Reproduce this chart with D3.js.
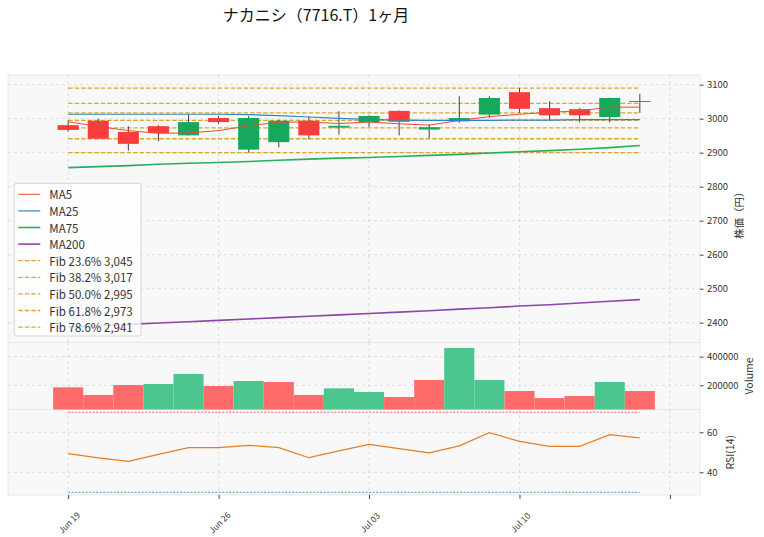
<!DOCTYPE html>
<html>
<head>
<meta charset="utf-8">
<script src="https://cdn.jsdelivr.net/npm/d3@7"></script>
<style>
    body { margin: 0; background: #fff; }
    text { font-family: "Noto Sans CJK JP", "Noto Sans", sans-serif; fill: #333; }
    .grid line { stroke: #d6d6d6; stroke-dasharray: 3,3; stroke-width: 0.8; }
    .axis path { display: none; }
    .axis line { stroke: #444; }
</style>
</head>
<body>
<div id="chart"></div>

<script>

    // daily data, 2023-06-19 .. 2023-07-14
    var dates = ["2023-06-19", "2023-06-20", "2023-06-21", "2023-06-22", "2023-06-23",
                 "2023-06-26", "2023-06-27", "2023-06-28", "2023-06-29", "2023-06-30",
                 "2023-07-03", "2023-07-04", "2023-07-05", "2023-07-06", "2023-07-07",
                 "2023-07-10", "2023-07-11", "2023-07-12", "2023-07-13", "2023-07-14"];
    var open  = [2981, 2994, 2961, 2978, 2951, 3002, 2909, 2931, 2994, 2974, 2990, 3023, 2968, 2992, 3012, 3078, 3031, 3028, 3005, 3052];
    var high  = [2995, 3000, 2978, 2981, 3012, 3008, 3008, 2997, 3007, 3022, 3010, 3024, 2983, 3066, 3066, 3090, 3051, 3031, 3062, 3073];
    var low   = [2962, 2940, 2906, 2934, 2951, 2985, 2900, 2916, 2940, 2953, 2976, 2951, 2943, 2988, 3003, 3017, 2994, 2989, 2989, 3017];
    var close = [2967, 2941, 2926, 2958, 2990, 2990, 3002, 2994, 2951, 2979, 3008, 2991, 2975, 3002, 3061, 3029, 3010, 3010, 3061, 3050];
    var prevClose = 2980;
    var volume = [186000, 132000, 202000, 209000, 279000, 195000, 230000, 223000, 132000, 179000,
                  153000, 118000, 237000, 461000, 237000, 160000, 111000, 125000, 223000, 160000];

    var ma5   = [2991, 2977, 2965, 2957, 2958, 2965, 2979, 2990, 2990, 2986, 2990, 2985, 2981, 2995, 3006, 3013, 3019, 3023, 3034, 3034];
    var ma25  = [3013, 3013, 3013, 3013, 3013, 3013, 3012, 3009, 3005, 3001, 2998, 2996, 2995, 2995, 2995, 2996, 2996, 2997, 2997, 2997];
    var ma75  = [2856, 2859, 2862, 2866, 2869, 2871, 2874, 2878, 2881, 2884, 2886, 2889, 2892, 2895, 2899, 2903, 2906, 2910, 2915, 2921];
    var ma200 = [2387, 2391, 2395, 2399, 2403, 2407, 2411, 2415, 2419, 2423, 2427, 2431, 2435, 2440, 2444, 2449, 2453, 2458, 2463, 2468];
    var rsi   = [49.3, 47.2, 45.5, 49.0, 52.3, 52.3, 53.5, 52.3, 47.3, 50.7, 54.0, 51.8, 49.7, 53.2, 59.8, 55.5, 53.0, 53.0, 58.8, 57.2];

    var fibNames  = ["0%", "23.6%", "38.2%", "50.0%", "61.8%", "78.6%", "100%"];
    var fibPrices = [3090, 3045, 3017, 2995, 2973, 2941, 2900];

    var priceTicks  = [2400, 2500, 2600, 2700, 2800, 2900, 3000, 3100];
    var volumeTicks = [200000, 400000];
    var rsiTicks    = [40, 60];
    var rsiBands    = [70, 30];
    var dateTicks   = [0, 5, 10, 15, 20];

    var title = "ナカニシ（7716.T）1ヶ月";

    var width = 764, height = 537;
    var left = 8, right = 700;
    var pTop = 75, pBot = 342.5, vBot = 409.5, rBot = 495;

    var red = "#fa3c3c", green = "#16a85c";
    var volRed = "#ff6b6b", volGreen = "#4cc68e";
    var fibColor = "#d4a017";

    var x = d3.scaleLinear().domain([-2, 21]).range([left, right]);
    var yPrice = d3.scaleLinear().domain([2341.8, 3128.5]).range([pBot, pTop]);
    var yVol = d3.scaleLinear().domain([31000, 499000]).range([vBot, pBot]);
    var yRsi = d3.scaleLinear().domain([28.65, 71.4]).range([rBot, vBot]);
    var step = x(1) - x(0);

    var svg = d3.select('#chart').append('svg')
        .attr('width', width)
        .attr('height', height);

    svg.append('text')
        .attr('x', 316).attr('y', 21)
        .attr('text-anchor', 'middle')
        .style('font-size', '16px')
        .style('fill', '#111')
        .text(title);

    // panel backgrounds
    [[pTop, pBot], [pBot, vBot], [vBot, rBot]].forEach(function(p) {
        svg.append('rect')
            .attr('x', left).attr('y', p[0])
            .attr('width', right - left).attr('height', p[1] - p[0])
            .attr('fill', '#f8f8f8')
            .attr('stroke', '#e4e4e4')
            .attr('stroke-width', 0.8);
    });

    // grids
    var grid = svg.append('g').attr('class', 'grid');
    [[pTop, pBot], [pBot, vBot], [vBot, rBot]].forEach(function(p) {
        grid.selectAll(null).data(dateTicks).enter().append('line')
            .attr('x1', function(d) { return x(d); }).attr('x2', function(d) { return x(d); })
            .attr('y1', p[0]).attr('y2', p[1]);
    });
    grid.selectAll(null).data(priceTicks).enter().append('line')
        .attr('x1', left).attr('x2', right)
        .attr('y1', function(d) { return yPrice(d); }).attr('y2', function(d) { return yPrice(d); });
    grid.selectAll(null).data(volumeTicks).enter().append('line')
        .attr('x1', left).attr('x2', right)
        .attr('y1', function(d) { return yVol(d); }).attr('y2', function(d) { return yVol(d); });
    grid.selectAll(null).data(rsiTicks).enter().append('line')
        .attr('x1', left).attr('x2', right)
        .attr('y1', function(d) { return yRsi(d); }).attr('y2', function(d) { return yRsi(d); });

    var idx = d3.range(dates.length);

    // fibonacci levels
    svg.append('g').selectAll('line').data(fibPrices).enter().append('line')
        .attr('x1', x(0)).attr('x2', x(dates.length - 1))
        .attr('y1', function(d) { return yPrice(d); }).attr('y2', function(d) { return yPrice(d); })
        .attr('stroke', fibColor)
        .attr('stroke-opacity', 0.9)
        .attr('stroke-width', 1.3)
        .attr('stroke-dasharray', '4.5,2');

    // candles
    var candles = svg.append('g');
    candles.selectAll('line').data(idx).enter().append('line')
        .attr('x1', function(i) { return x(i); }).attr('x2', function(i) { return x(i); })
        .attr('y1', function(i) { return yPrice(high[i]); })
        .attr('y2', function(i) { return yPrice(low[i]); })
        .attr('stroke', '#444').attr('stroke-width', 1);
    candles.selectAll('rect').data(idx).enter().append('rect')
        .attr('x', function(i) { return x(i) - step * 0.35; })
        .attr('width', step * 0.7)
        .attr('y', function(i) { return yPrice(Math.max(open[i], close[i])); })
        .attr('height', function(i) { return Math.max(1, Math.abs(yPrice(open[i]) - yPrice(close[i]))); })
        .attr('fill', function(i) { return close[i] >= open[i] ? green : red; });

    // moving averages
    var mas = [
        { name: 'MA5', values: ma5, color: '#e74c3c', w: 1 },
        { name: 'MA25', values: ma25, color: '#2e86c1', w: 1.2 },
        { name: 'MA75', values: ma75, color: '#27ae60', w: 1.6 },
        { name: 'MA200', values: ma200, color: '#8e44ad', w: 1.6 }
    ];
    var pen = d3.line()
        .x(function(d, i) { return x(i); })
        .y(function(d) { return yPrice(d); });
    mas.forEach(function(m) {
        svg.append('path')
            .datum(m.values)
            .attr('fill', 'none')
            .attr('stroke', m.color)
            .attr('stroke-width', m.w)
            .attr('d', pen);
    });

    // volume
    svg.append('g').selectAll('rect').data(idx).enter().append('rect')
        .attr('x', function(i) { return x(i) - step / 2; })
        .attr('width', step)
        .attr('y', function(i) { return yVol(volume[i]); })
        .attr('height', function(i) { return vBot - yVol(volume[i]); })
        .attr('fill', function(i) {
            var prev = i === 0 ? prevClose : close[i - 1];
            return close[i] > prev ? volGreen : volRed;
        });

    // rsi
    svg.append('g').selectAll('line').data(rsiBands).enter().append('line')
        .attr('x1', x(0)).attr('x2', x(dates.length - 1))
        .attr('y1', function(d) { return yRsi(d); }).attr('y2', function(d) { return yRsi(d); })
        .attr('stroke', function(d, i) { return i === 0 ? '#e74c3c' : '#2e86c1'; })
        .attr('stroke-width', 0.8)
        .attr('stroke-dasharray', '2,1.5');
    svg.append('path')
        .datum(rsi)
        .attr('fill', 'none')
        .attr('stroke', '#e67e22')
        .attr('stroke-width', 1.2)
        .attr('d', d3.line().x(function(d, i) { return x(i); }).y(function(d) { return yRsi(d); }));

    // axes
    function rightAxis(scale, ticks, fmt) {
        var g = svg.append('g')
            .attr('class', 'axis')
            .attr('transform', 'translate(' + right + ',0)')
            .call(d3.axisRight(scale).tickValues(ticks).tickSize(3.5).tickPadding(3.5).tickFormat(fmt));
        g.selectAll('text').style('font-size', '9.5px').style('font-family', '"Noto Sans CJK JP", sans-serif').attr('fill', '#333');
        return g;
    }
    rightAxis(yPrice, priceTicks, d3.format('d'));
    rightAxis(yVol, volumeTicks, d3.format('d'));
    rightAxis(yRsi, rsiTicks, d3.format('d'));

    var fmtDate = d3.timeFormat('%b %d');
    var parse = d3.timeParse('%Y-%m-%d');
    var xAxis = svg.append('g')
        .attr('class', 'axis')
        .attr('transform', 'translate(0,' + rBot + ')')
        .call(d3.axisBottom(x).tickValues(dateTicks).tickSize(4).tickFormat(function(i) {
            return dates[i] ? fmtDate(parse(dates[i])) : '';
        }));
    xAxis.selectAll('text')
        .attr('y', 0).attr('dy', 0)
        .attr('transform', 'translate(0,27) rotate(-45)')
        .attr('text-anchor', 'middle')
        .attr('dominant-baseline', 'central')
        .style('font-size', '8.5px')
        .style('font-family', '"Noto Sans CJK JP", sans-serif')
        .attr('fill', '#333');

    // axis labels
    function yLabel(text, cx, cy) {
        svg.append('text')
            .attr('transform', 'translate(' + cx + ',' + cy + ') rotate(-90)')
            .attr('text-anchor', 'middle')
            .attr('dominant-baseline', 'central')
            .style('font-size', '10.5px')
            .text(text);
    }
    yLabel('株価（円）', 738, (pTop + pBot) / 2 + 4);
    yLabel('Volume', 748, (pBot + vBot) / 2);
    yLabel('RSI(14)', 729, (vBot + rBot) / 2);

    // legend
    var legend = svg.append('g').attr('transform', 'translate(14.3,183.3)');
    legend.append('rect')
        .attr('width', 126.7).attr('height', 152.7)
        .attr('rx', 2)
        .attr('fill', '#fff').attr('fill-opacity', 0.8)
        .attr('stroke', '#ccc').attr('stroke-width', 0.8);
    var items = mas.map(function(m) { return { label: m.name, color: m.color, w: m.w, dash: null }; });
    for (var k = 1; k <= 5; k++) {
        items.push({ label: 'Fib ' + fibNames[k] + ' ' + d3.format(',')(fibPrices[k]), color: fibColor, w: 1.3, dash: '4.5,2' });
    }
    var rows = legend.selectAll('g.item').data(items).enter().append('g')
        .attr('class', 'item')
        .attr('transform', function(d, i) { return 'translate(0,' + (11 + i * 16.6) + ')'; });
    rows.append('line')
        .attr('x1', 4).attr('x2', 26)
        .attr('stroke', function(d) { return d.color; })
        .attr('stroke-width', function(d) { return d.w; })
        .attr('stroke-opacity', function(d) { return d.dash ? 0.9 : 1; })
        .attr('stroke-dasharray', function(d) { return d.dash; });
    rows.append('text')
        .attr('x', 35)
        .attr('dominant-baseline', 'central')
        .style('font-size', '11.5px')
        .text(function(d) { return d.label; });

</script>
</body>
</html>
